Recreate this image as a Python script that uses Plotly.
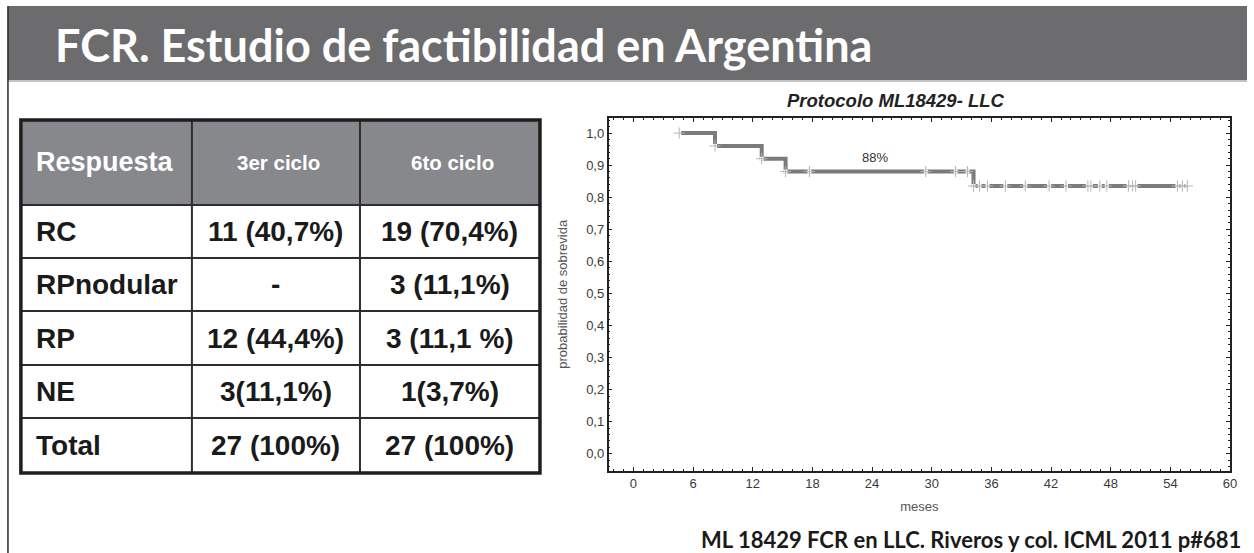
import plotly.graph_objects as go

W, H = 1254, 553

# ---- data -------------------------------------------------------------
titulo = "FCR. Estudio de factibilidad en Argentina"
fuente = "ML 18429 FCR en LLC. Riveros y col. ICML 2011 p#681"

encabezado = ["Respuesta", "3er ciclo", "6to ciclo"]
respuesta = ["RC", "RPnodular", "RP", "NE", "Total"]
ciclo_3 = ["11 (40,7%)", "-", "12 (44,4%)", "3(11,1%)", "27 (100%)"]
ciclo_6 = ["19 (70,4%)", "3 (11,1%)", "3 (11,1 %)", "1(3,7%)", "27 (100%)"]

grafico_titulo = "Protocolo ML18429- LLC"
# Kaplan-Meier survival: times (months) where each level starts, and level
km_meses = [4.6, 8.2, 12.9, 15.3, 34.2, 55.8]
km_sobrevida = [1.0, 0.96, 0.92, 0.88, 0.835, 0.835]
# censored observations (months)
censurados = [4.6, 8.2, 12.9, 15.3, 17.7, 29.4, 32.4, 33.6,
              34.2, 34.8, 35.6, 37.4, 39.4, 41.8, 43.5, 45.7, 46.0, 46.9,
              47.6, 49.8, 50.2, 50.5, 54.7, 55.2, 55.7]
x_ticks = [0, 6, 12, 18, 24, 30, 36, 42, 48, 54, 60]
y_ticks = [0.0, 0.1, 0.2, 0.3, 0.4, 0.5, 0.6, 0.7, 0.8, 0.9, 1.0]


def px(x):
    return x / W


def py(y):
    return 1 - y / H


def nivel(t):
    """Survival level of the step function at time t."""
    s = km_sobrevida[0]
    for tm, v in zip(km_meses, km_sobrevida):
        if t >= tm:
            s = v
    return s


fig = go.Figure()

# survival curve
fig.add_trace(go.Scatter(
    x=km_meses, y=km_sobrevida, mode="lines", line_shape="hv",
    line=dict(color="#7b7b7b", width=4), hoverinfo="skip", showlegend=False))

cy = [nivel(t) for t in censurados]
# small gaps in the line around each censor mark
fig.add_trace(go.Scatter(
    x=censurados, y=cy, mode="markers",
    marker=dict(symbol="square", size=4, color="white", line=dict(width=0)),
    hoverinfo="skip", showlegend=False))
fig.add_trace(go.Scatter(
    x=censurados, y=cy, mode="markers",
    marker=dict(symbol="cross-thin", size=8, color="#b4b4b4",
                line=dict(color="#b4b4b4", width=1)),
    hoverinfo="skip", showlegend=False))

# plateau label
fig.add_annotation(x=24.3, y=km_sobrevida[3], yshift=14, xref="x", yref="y",
                   text=f"{km_sobrevida[3] * 100:.0f}%", showarrow=False,
                   font=dict(family="Liberation Sans", size=13, color="#333"))

axis_font = dict(family="Liberation Sans", size=13, color="#3a3a3a")
fig.update_xaxes(
    domain=[px(612), px(1237)], range=[-2.5, 60], tickmode="array",
    tickvals=x_ticks, ticktext=[str(v) for v in x_ticks],
    ticks="inside", ticklen=4, tickcolor="#222", showline=True,
    linecolor="#222", linewidth=1.5, mirror="allticks", showgrid=False,
    zeroline=False, tickfont=axis_font,
    minor=dict(dtick=1, tick0=0, ticks="inside", ticklen=2, tickcolor="#222"),
    title=dict(text="meses", font=dict(family="Liberation Sans", size=13,
                                       color="#555"), standoff=12))
fig.update_yaxes(
    domain=[py(470.5), py(118)], range=[-0.052, 1.047], tickmode="array",
    tickvals=y_ticks, ticktext=[f"{v:.1f}".replace(".", ",") for v in y_ticks],
    ticks="inside", ticklen=4, tickcolor="#222", showline=True,
    linecolor="#222", linewidth=1.5, mirror="allticks", showgrid=False,
    zeroline=False, tickfont=axis_font,
    minor=dict(dtick=0.02, tick0=0, ticks="inside", ticklen=2, tickcolor="#222"),
    title=dict(text="probabilidad de sobrevida",
               font=dict(family="Liberation Sans", size=13, color="#555"),
               standoff=16))

shapes = []
annotations = []

# title bar
shapes.append(dict(type="rect", xref="paper", yref="paper", x0=px(8), x1=px(W),
                   y0=py(80), y1=py(6), fillcolor="#6c6c6e", line=dict(width=0),
                   layer="below"))
shapes.append(dict(type="line", xref="paper", yref="paper", x0=px(8), x1=px(W),
                   y0=py(81), y1=py(81), line=dict(color="#c4c4c4", width=2)))
shapes.append(dict(type="line", xref="paper", yref="paper", x0=px(8), x1=px(8),
                   y0=py(6), y1=py(H), line=dict(color="#2a2a2a", width=1.5)))
for dx, dy, col in [(2, 2, "rgba(0,0,0,0.55)"), (0, 0, "white")]:
    annotations.append(dict(
        x=px(53 + dx), y=py(45 + dy), xref="paper", yref="paper",
        xanchor="left", yanchor="middle", showarrow=False, text=titulo,
        font=dict(family="Lato", size=45, color=col, weight="bold")))

# response table
col_x = [21, 193, 362, 543]
row_y = [120, 205, 258, 311, 365, 418, 473]
shapes.append(dict(type="rect", xref="paper", yref="paper",
                   x0=px(col_x[0]), x1=px(col_x[-1]), y0=py(row_y[1]),
                   y1=py(row_y[0]), fillcolor="#87888c", line=dict(width=0),
                   layer="below"))
for yy in row_y[1:-1]:
    shapes.append(dict(type="line", xref="paper", yref="paper",
                       x0=px(col_x[0]), x1=px(col_x[-1]), y0=py(yy), y1=py(yy),
                       line=dict(color="#2e2e2e", width=2)))
for xx in col_x[1:-1]:
    shapes.append(dict(type="line", xref="paper", yref="paper",
                       x0=px(xx), x1=px(xx), y0=py(row_y[0]), y1=py(row_y[-1]),
                       line=dict(color="#2e2e2e", width=2)))
shapes.append(dict(type="rect", xref="paper", yref="paper",
                   x0=px(col_x[0]), x1=px(col_x[-1]), y0=py(row_y[-1]),
                   y1=py(row_y[0]), line=dict(color="#1e1e1e", width=3.5)))

hdr_sizes = [27, 20.5, 20.5]
for j, txt in enumerate(encabezado):
    left = j == 0
    annotations.append(dict(
        x=px(col_x[0] + 13) if left else px((col_x[j] + col_x[j + 1]) / 2 + 3),
        y=py((row_y[0] + row_y[1]) / 2), xref="paper", yref="paper",
        xanchor="left" if left else "center", yanchor="middle",
        showarrow=False, text=txt,
        font=dict(family="Liberation Sans", size=hdr_sizes[j], color="white",
                  weight="bold")))
for i in range(len(respuesta)):
    yc = py((row_y[i + 1] + row_y[i + 2]) / 2)
    for j, txt in enumerate([respuesta[i], ciclo_3[i], ciclo_6[i]]):
        left = j == 0
        annotations.append(dict(
            x=px(col_x[0] + 13) if left else px((col_x[j] + col_x[j + 1]) / 2),
            y=yc, xref="paper", yref="paper",
            xanchor="left" if left else "center", yanchor="middle",
            showarrow=False, text=txt,
            font=dict(family="Liberation Sans", size=28, color="#1a1a1a",
                      weight="bold")))

# chart heading and source
annotations.append(dict(
    x=px(901), y=py(101), xref="paper", yref="paper", xanchor="center",
    yanchor="middle", showarrow=False, text=grafico_titulo,
    font=dict(family="Liberation Sans", size=18.5, color="#222", weight="bold",
              style="italic")))
annotations.append(dict(
    x=px(1250), y=py(539), xref="paper", yref="paper", xanchor="right",
    yanchor="middle", showarrow=False, text=fuente,
    font=dict(family="Lato", size=22, color="#1a1a1a", weight="bold")))

fig.update_layout(
    width=W, height=H, margin=dict(l=0, r=0, t=0, b=0),
    paper_bgcolor="white", plot_bgcolor="white",
    shapes=shapes, annotations=annotations, showlegend=False)

fig.write_html("out.html")
